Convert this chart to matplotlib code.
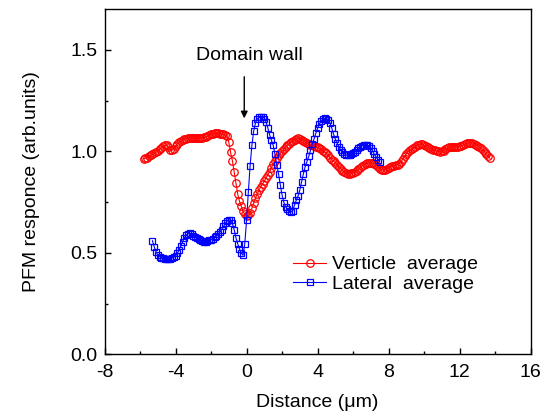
import numpy as np
import matplotlib
matplotlib.use("Agg")
import matplotlib.pyplot as plt
from matplotlib.ticker import MultipleLocator

plt.rcParams['font.family'] = ['Liberation Sans', 'DejaVu Sans']
plt.rcParams['axes.unicode_minus'] = False

# ---- data ----
vert_x = np.round(np.arange(-5.8, 13.75, 0.1), 1)
vert_y = [
    0.965, 0.966, 0.970, 0.975, 0.980, 0.985, 0.990, 0.996, 1.003, 1.010,
    1.018, 1.025, 1.030, 1.030, 1.020, 1.008, 1.005, 1.012, 1.025, 1.036,
    1.044, 1.050, 1.055, 1.060, 1.063, 1.065, 1.066, 1.066, 1.065, 1.064,
    1.064, 1.065, 1.066, 1.068, 1.070, 1.072, 1.075, 1.080, 1.085, 1.088,
    1.090, 1.090, 1.089, 1.088, 1.086, 1.084, 1.081, 1.075, 1.045, 0.995,
    0.955, 0.900, 0.845, 0.790, 0.755, 0.730, 0.705, 0.690, 0.680, 0.685,
    0.695, 0.720, 0.745, 0.770, 0.790, 0.810, 0.825, 0.840, 0.855, 0.870,
    0.885, 0.900, 0.920, 0.940, 0.955, 0.970, 0.980, 0.990, 1.000, 1.010,
    1.020, 1.030, 1.038, 1.045, 1.052, 1.058, 1.062, 1.064, 1.062, 1.058,
    1.052, 1.046, 1.040, 1.035, 1.032, 1.030, 1.027, 1.024, 1.020, 1.015,
    1.010, 1.003, 0.996, 0.990, 0.980, 0.970, 0.960, 0.952, 0.945, 0.935,
    0.925, 0.915, 0.905, 0.897, 0.892, 0.890, 0.890, 0.892, 0.896, 0.900,
    0.905, 0.912, 0.920, 0.928, 0.935, 0.940, 0.942, 0.943, 0.943, 0.942,
    0.940, 0.935, 0.925, 0.915, 0.910, 0.908, 0.910, 0.915, 0.920, 0.925,
    0.928, 0.930, 0.932, 0.935, 0.940, 0.950, 0.962, 0.975, 0.988, 0.998,
    1.006, 1.012, 1.018, 1.024, 1.030, 1.034, 1.036, 1.035, 1.030, 1.025,
    1.020, 1.015, 1.012, 1.008, 1.005, 1.002, 1.000, 0.999, 1.000, 1.004,
    1.010, 1.016, 1.020, 1.022, 1.022, 1.022, 1.023, 1.024, 1.026, 1.029,
    1.032, 1.036, 1.040, 1.042, 1.043, 1.042, 1.039, 1.034, 1.028, 1.022,
    1.015, 1.006, 0.997, 0.988, 0.978, 0.966,
]

lat_x = np.round(np.arange(-5.3, 7.55, 0.1), 1)
lat_y = [
    0.560, 0.530, 0.505, 0.490, 0.482, 0.477, 0.474, 0.472, 0.471, 0.471,
    0.472, 0.474, 0.478, 0.485, 0.497, 0.515, 0.535, 0.555, 0.575, 0.587,
    0.594, 0.596, 0.592, 0.585, 0.578, 0.572, 0.566, 0.561, 0.557, 0.555,
    0.556, 0.558, 0.561, 0.565, 0.570, 0.576, 0.584, 0.593, 0.603, 0.615,
    0.630, 0.645, 0.657, 0.663, 0.660, 0.645, 0.615, 0.575, 0.545, 0.520,
    0.500, 0.488, 0.545, 0.660, 0.800, 0.930, 1.030, 1.100, 1.140, 1.160,
    1.168, 1.172, 1.171, 1.162, 1.145, 1.115, 1.082, 1.055, 1.030, 0.985,
    0.935, 0.890, 0.835, 0.785, 0.748, 0.728, 0.715, 0.705, 0.702, 0.708,
    0.735, 0.760, 0.780, 0.810, 0.850, 0.890, 0.925, 0.950, 0.975, 1.005,
    1.035, 1.062, 1.090, 1.115, 1.135, 1.150, 1.160, 1.163, 1.162, 1.155,
    1.140, 1.115, 1.085, 1.060, 1.040, 1.022, 1.008, 0.995, 0.988, 0.983,
    0.981, 0.982, 0.985, 0.991, 0.998, 1.006, 1.015, 1.023, 1.029, 1.031,
    1.032, 1.031, 1.027, 1.018, 1.002, 0.985, 0.972, 0.960, 0.949,
]

x_ticks = [-8, -4, 0, 4, 8, 12, 16]
y_ticks = [0.0, 0.5, 1.0, 1.5]

fig = plt.figure(figsize=(5.48, 4.16), dpi=100)
ax = fig.add_axes([0.1907, 0.1483, 0.7777, 0.8291])

ax.plot(vert_x, vert_y, '-', color='#ff0000', lw=0.8, marker='o', ms=5.4,
        mfc='none', mec='#ff0000', mew=0.9, label='Verticle  average')
ax.plot(lat_x, lat_y, '-', color='#0000ff', lw=0.8, marker='s', ms=4.7,
        mfc='none', mec='#0000ff', mew=0.9, label='Lateral  average')

ax.set_xlim(-8, 16)
ax.set_ylim(0, 1.7)
ax.set_xticks(x_ticks)
ax.set_xticklabels([str(v) for v in x_ticks])
ax.set_yticks(y_ticks)
ax.set_yticklabels(['%.1f' % v for v in y_ticks])
ax.xaxis.set_minor_locator(MultipleLocator(2))
ax.yaxis.set_minor_locator(MultipleLocator(0.25))
ax.tick_params(which='both', direction='in', labelsize=14, width=1)
ax.tick_params(which='major', length=4.5)
ax.tick_params(which='minor', length=2.5)
ax.tick_params(axis='x', pad=7)
ax.tick_params(axis='y', pad=5)
for s in ax.spines.values():
    s.set_linewidth(1.0)

ax.set_xlabel('Distance (\u03bcm)', fontsize=14, labelpad=9)
ax.set_ylabel('PFM responce (arb.units)', fontsize=14, labelpad=22)

ax.annotate('', xy=(-0.13, 1.163), xytext=(-0.13, 1.368),
            arrowprops=dict(arrowstyle='-|>', color='black', lw=1.0,
                            mutation_scale=10, shrinkA=0, shrinkB=0))
ax.text(0.175, 1.475, 'Domain wall', fontsize=14, ha='center', va='center')

ax.legend(loc='center left', bbox_to_anchor=(0.4425, 0.232), frameon=False,
          fontsize=14, handlelength=1.7, handletextpad=0.3, labelspacing=0.1,
          borderpad=0, borderaxespad=0)

fig.savefig('out.png', dpi=100)
